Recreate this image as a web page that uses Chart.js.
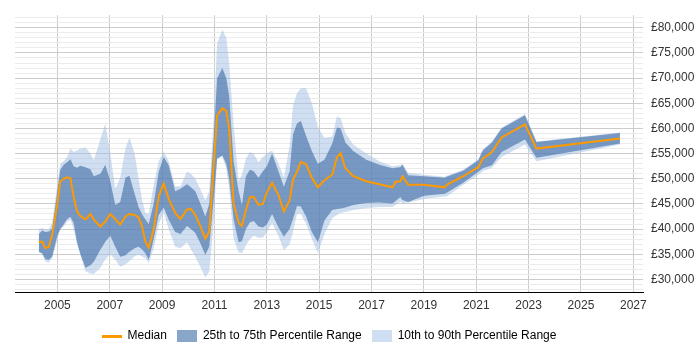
<!DOCTYPE html>
<html>
<head>
<meta charset="utf-8">
<script src="https://cdn.jsdelivr.net/npm/chart.js@4.4.1/dist/chart.umd.min.js"></script>
<style>
  html, body { margin: 0; padding: 0; background: #fff; }
  #wrap { width: 700px; height: 350px; }
</style>
</head>
<body>
<div id="wrap"><canvas id="chart" width="700" height="350"></canvas></div>
<script>
'use strict';

// ── DATA (salary percentiles, £ thousands) ──────────────────

const years = [
  2004.29, 2004.42, 2004.54, 2004.67, 2004.80, 2005.00, 2005.11, 2005.24, 2005.37, 2005.50,
  2005.62, 2005.75, 2005.88, 2006.07, 2006.26, 2006.39, 2006.64, 2006.83, 2007.02, 2007.21,
  2007.40, 2007.60, 2007.75, 2007.95, 2008.10, 2008.23, 2008.36, 2008.49, 2008.68, 2008.87,
  2009.06, 2009.25, 2009.50, 2009.70, 2009.95, 2010.10, 2010.27, 2010.46, 2010.65, 2010.80,
  2010.97, 2011.10, 2011.30, 2011.45, 2011.56, 2011.73, 2011.92, 2012.05, 2012.20, 2012.35,
  2012.50, 2012.68, 2012.85, 2013.00, 2013.20, 2013.45, 2013.65, 2013.87, 2014.00, 2014.15,
  2014.30, 2014.50, 2014.72, 2014.95, 2015.20, 2015.50, 2015.68, 2015.82, 2016.00, 2016.30,
  2016.80, 2017.30, 2017.80, 2017.92, 2018.10, 2018.18, 2018.40, 2019.00, 2019.80, 2019.87,
  2020.50, 2021.08, 2021.25, 2021.60, 2021.97, 2022.86, 2023.30, 2026.49,
];

const p10 = [
  35.4, 35.0, 33.6, 33.3, 34.3, 38.0, 40.0, 40.5, 41.5, 41.9,
  40.0, 37.0, 34.9, 31.6, 31.2, 31.1, 32.3, 34.0, 35.0, 33.9,
  32.5, 33.0, 33.6, 34.6, 34.9, 34.6, 34.2, 33.3, 36.2, 41.0,
  43.3, 40.0, 36.5, 36.2, 37.4, 36.0, 34.5, 32.5, 30.4, 31.5,
  41.3, 54.0, 54.4, 52.0, 48.0, 38.1, 35.4, 35.2, 36.8, 38.0,
  38.7, 38.3, 38.3, 39.4, 41.2, 38.6, 35.8, 37.0, 39.5, 43.0,
  43.0, 41.0, 38.1, 35.2, 39.0, 42.2, 42.8, 43.2, 43.4, 43.8,
  44.2, 44.4, 44.4, 44.8, 45.5, 45.2, 45.3, 46.0, 46.5, 46.5,
  48.8, 50.8, 51.5, 52.2, 54.3, 56.8, 53.5, 56.8,
];

const p25 = [
  35.5, 35.2, 34.0, 33.9, 34.5, 38.8, 40.0, 40.9, 42.0, 42.4,
  41.2, 37.4, 35.0, 32.3, 32.8, 33.5, 35.9, 37.5, 38.7, 36.5,
  34.5, 34.8, 35.5, 36.2, 36.5, 36.0, 35.2, 33.9, 38.1, 42.8,
  44.3, 41.9, 39.4, 39.0, 40.6, 40.0, 39.2, 37.2, 34.9, 36.5,
  46.0, 54.0, 54.6, 53.0, 50.0, 42.0, 37.4, 37.6, 40.0, 41.3,
  41.6, 40.5, 40.3, 40.9, 43.0, 40.3, 38.5, 40.0, 42.0, 44.6,
  44.5, 42.5, 39.4, 37.4, 41.7, 43.8, 44.0, 44.1, 44.3, 44.8,
  45.2, 45.3, 45.1, 45.6, 46.4, 45.8, 45.4, 46.6, 47.0, 47.2,
  49.2, 51.4, 52.1, 52.7, 55.3, 57.8, 54.2, 57.0,
];

const median = [
  37.4, 37.5, 36.2, 36.5, 38.8, 45.0, 49.5, 50.0, 50.3, 50.1,
  46.4, 43.5, 42.6, 41.9, 43.0, 41.9, 40.5, 41.5, 43.0, 42.0,
  40.9, 42.5, 43.0, 42.8, 42.3, 40.6, 37.5, 36.3, 40.0, 46.5,
  49.0, 46.0, 43.2, 42.0, 43.9, 44.0, 42.8, 40.6, 38.1, 39.5,
  52.7, 62.6, 64.0, 63.5, 60.0, 45.1, 41.3, 40.6, 43.8, 46.3,
  46.4, 44.8, 45.0, 47.3, 49.2, 46.7, 43.5, 45.7, 49.8, 51.4,
  53.3, 52.9, 50.2, 48.3, 49.7, 50.8, 54.3, 55.1, 52.1, 50.5,
  49.5, 48.9, 48.3, 49.4, 49.5, 50.5, 48.8, 48.8, 48.3, 48.8,
  50.5, 52.3, 54.0, 55.3, 58.2, 60.8, 56.0, 58.0,
];

const p75 = [
  39.0, 39.7, 39.4, 39.5, 40.0, 47.5, 51.8, 52.8, 53.3, 53.9,
  52.5, 52.2, 52.6, 52.3, 51.9, 50.5, 51.0, 52.8, 49.5, 44.8,
  45.4, 50.2, 50.6, 47.0, 44.4, 43.0, 41.9, 41.0, 45.1, 51.4,
  54.3, 52.7, 47.5, 48.0, 48.9, 48.3, 47.5, 45.1, 42.5, 45.0,
  58.0, 69.9, 72.0, 70.0, 66.5, 53.5, 47.6, 44.8, 50.5, 51.8,
  51.5, 50.2, 51.5, 52.5, 55.0, 51.4, 48.4, 51.5, 58.8, 61.0,
  61.5, 58.5, 55.5, 53.0, 53.8, 57.0, 60.2, 60.0, 57.2, 55.5,
  53.8, 52.8, 52.1, 52.2, 52.3, 52.8, 50.7, 50.5, 50.2, 50.4,
  51.6, 53.7, 55.6, 57.2, 60.0, 62.6, 57.3, 59.1,
];

const p90 = [
  40.0, 40.2, 39.8, 40.0, 41.3, 49.0, 53.0, 53.5, 54.3, 56.0,
  55.3, 55.6, 56.0, 56.2, 55.0, 53.7, 57.8, 61.0, 55.0, 48.0,
  50.2, 56.0, 58.2, 55.0, 50.0, 46.0, 43.2, 43.0, 48.9, 53.5,
  55.4, 53.5, 48.5, 48.5, 51.4, 51.0, 50.0, 47.9, 45.7, 47.5,
  62.0, 76.9, 79.6, 78.0, 73.0, 61.0, 49.5, 50.8, 54.0, 55.3,
  54.9, 53.3, 54.3, 55.0, 55.6, 53.0, 50.2, 56.5, 64.5, 67.0,
  68.0, 68.0, 65.0, 60.3, 58.1, 58.4, 62.4, 62.0, 59.1, 56.8,
  55.0, 53.5, 52.5, 52.6, 52.7, 53.0, 51.2, 50.8, 50.4, 50.6,
  51.8, 53.9, 55.8, 57.4, 60.2, 62.8, 57.4, 59.2,
];

const xTicks = [2005, 2007, 2009, 2011, 2013, 2015, 2017, 2019, 2021, 2023, 2025, 2027];
const yTicks = [];
for (let v = 28; v <= 82; v++) yTicks.push(v);

// ── STYLE ───────────────────────────────────────────────────

const MEDIAN_COLOR = '#ff9900';
const IQR_COLOR    = 'rgba(59,105,163,0.6)';
const DECILE_COLOR = 'rgba(160,190,225,0.5)';
const FONT = { family: '"Liberation Sans", Arial, sans-serif', size: 12 };

const pts = arr => arr.map((v, i) => ({ x: years[i], y: v }));

function swatch(w, h, color) {
  const c = document.createElement('canvas');
  c.width = w;
  c.height = h;
  const g = c.getContext('2d');
  g.fillStyle = color;
  g.fillRect(0, 0, w, h);
  return c;
}

const band = (data, fill, color) => ({
  data: pts(data),
  borderColor: 'transparent',
  borderWidth: 0,
  pointRadius: 0,
  backgroundColor: color,
  fill: fill,
  tension: 0,
});

// ── CHART ───────────────────────────────────────────────────

new Chart(document.getElementById('chart'), {
  type: 'line',
  data: {
    datasets: [
      {
        label: 'Median',
        data: pts(median),
        borderColor: MEDIAN_COLOR,
        borderWidth: 2,
        pointRadius: 0,
        fill: false,
        tension: 0,
      },
      band(p75, '+1', IQR_COLOR),
      band(p25, false, 'transparent'),
      band(p90, '+1', DECILE_COLOR),
      band(p10, false, 'transparent'),
    ],
  },
  options: {
    responsive: false,
    animation: false,
    layout: { padding: { top: 4, left: 15, right: 0, bottom: -2 } },
    plugins: {
      tooltip: { enabled: false },
      legend: {
        position: 'bottom',
        fullSize: false,
        labels: {
          usePointStyle: true,
          pointStyleWidth: 20,
          boxWidth: 20,
          boxHeight: 12,
          padding: 10,
          color: '#333',
          font: FONT,
          generateLabels: () => [
            { text: 'Median', pointStyle: swatch(20, 3, MEDIAN_COLOR), lineWidth: 0, strokeStyle: 'transparent', fillStyle: MEDIAN_COLOR, datasetIndex: 0 },
            { text: '25th to 75th Percentile Range', pointStyle: swatch(20, 12, IQR_COLOR), lineWidth: 0, strokeStyle: 'transparent', fillStyle: IQR_COLOR, datasetIndex: 1 },
            { text: '10th to 90th Percentile Range', pointStyle: swatch(20, 12, DECILE_COLOR), lineWidth: 0, strokeStyle: 'transparent', fillStyle: DECILE_COLOR, datasetIndex: 3 },
          ],
        },
        onClick: () => {},
      },
    },
    scales: {
      x: {
        type: 'linear',
        min: 2003.38,
        max: 2027.37,
        afterBuildTicks: s => { s.ticks = xTicks.map(v => ({ value: v })); },
        afterFit: s => { s.height = 28; },
        grid: { color: '#cccccc', drawTicks: false },
        border: { display: true, color: '#000' },
        ticks: {
          padding: 6,
          color: '#333',
          font: FONT,
          maxRotation: 0,
          autoSkip: false,
          callback: v => String(v),
        },
      },
      y: {
        position: 'right',
        min: 27.5,
        max: 82.5,
        afterBuildTicks: s => { s.ticks = yTicks.map(v => ({ value: v })); },
        afterFit: s => { s.width = 57; },
        grid: {
          drawTicks: false,
          color: ctx => (ctx.tick && ctx.tick.value % 5 === 0) ? '#cccccc' : '#ebebeb',
        },
        border: { display: false },
        ticks: {
          padding: 8,
          color: '#333',
          font: FONT,
          autoSkip: false,
          callback: v => v % 5 === 0 ? '£' + (v * 1000).toLocaleString('en-GB') : '',
        },
      },
    },
  },
});
</script>
</body>
</html>
